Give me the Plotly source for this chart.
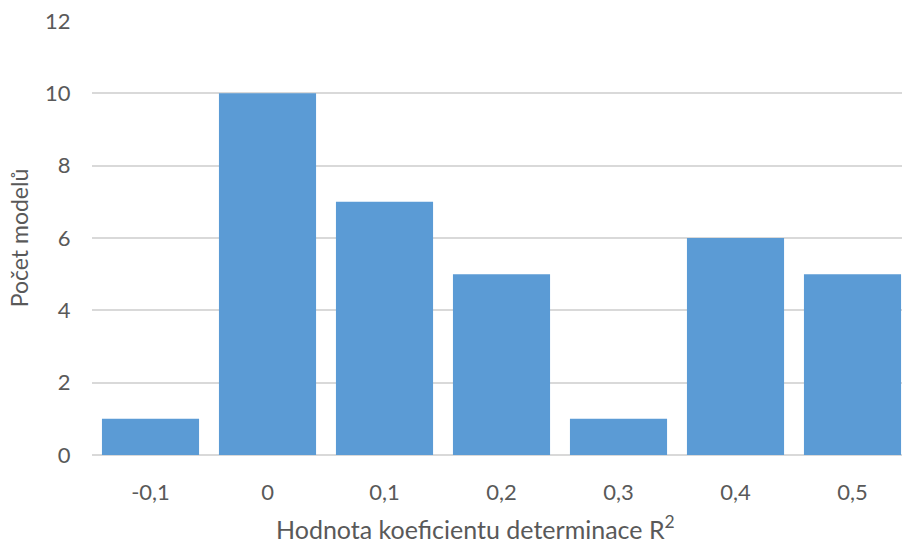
import plotly.graph_objects as go

# Histogram of R^2 values across models
categories = ["-0,1", "0", "0,1", "0,2", "0,3", "0,4", "0,5"]
counts = [1, 10, 7, 5, 1, 6, 5]
y_ticks = [0, 2, 4, 6, 8, 10, 12]

BAR_COLOR = "#5B9BD5"
TEXT_COLOR = "#595959"
GRID_COLOR = "#D9D9D9"
FONT = "Lato, Open Sans, sans-serif"

fig = go.Figure(
    go.Bar(
        x=list(range(len(categories))),
        y=counts,
        marker=dict(color=BAR_COLOR, line=dict(width=0)),
        hoverinfo="skip",
    )
)

fig.update_layout(
    width=902,
    height=544,
    margin=dict(l=92, r=0, t=21, b=89),
    paper_bgcolor="white",
    plot_bgcolor="white",
    bargap=0.17,
    showlegend=False,
    font=dict(family=FONT, color=TEXT_COLOR, size=22),
)

fig.update_xaxes(
    range=[-0.5, 6.423],
    tickmode="array",
    tickvals=list(range(len(categories))),
    ticktext=categories,
    showgrid=False,
    zeroline=False,
    showline=False,
    ticks="outside",
    ticklen=18,
    tickcolor="rgba(0,0,0,0)",
    tickfont=dict(size=22, color=TEXT_COLOR),
)

# x-axis title, centred on the whole chart area rather than the plot area
fig.add_annotation(
    text="Hodnota koeficientu determinace R<sup>2</sup>",
    xref="paper",
    yref="paper",
    x=0.474,
    y=-0.166,
    xanchor="center",
    yanchor="middle",
    showarrow=False,
    font=dict(size=25, color=TEXT_COLOR, family=FONT),
)

fig.update_yaxes(
    range=[0, 12],
    tickmode="array",
    tickvals=y_ticks,
    ticktext=[str(v) for v in y_ticks],
    showgrid=True,
    gridcolor=GRID_COLOR,
    gridwidth=1.5,
    zeroline=True,
    zerolinecolor=GRID_COLOR,
    zerolinewidth=2,
    showline=False,
    ticks="outside",
    ticklen=16,
    tickcolor="rgba(0,0,0,0)",
    tickfont=dict(size=22, color=TEXT_COLOR),
    title=dict(
        text="Počet modelů",
        font=dict(size=23, color=TEXT_COLOR),
        standoff=10,
    ),
)

fig.write_html("out.html")
